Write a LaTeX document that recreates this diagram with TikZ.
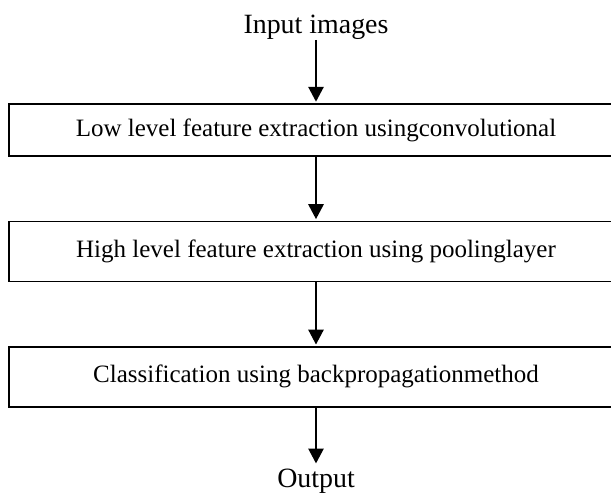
\documentclass[tikz,border=0pt]{standalone}
\usepackage{fontspec}
\setmainfont{Liberation Serif}
\usetikzlibrary{arrows.meta,positioning}

\begin{document}
\begin{tikzpicture}[
    x=1pt, y=1pt,
    node distance=0mm,
    stage/.style={draw, line width=1.4pt, minimum width=614pt, minimum height=60pt, inner sep=0pt, align=center, font=\fontsize{25}{30}\selectfont},
    term/.style={inner sep=0pt, font=\fontsize{27.9}{33}\selectfont},
    flow/.style={-{Triangle[width=15pt, length=15pt]}, line width=2.8pt, shorten >=1.5pt}
]
\useasboundingbox (0,0) rectangle (611,-496);
\node[stage, minimum height=52pt] (low) at (316,-130) {Low level feature extraction usingconvolutional};
\node[stage, below=64pt of low] (high) {High level feature extraction using poolinglayer};
\node[stage, below=64pt of high] (cls) {Classification using backpropagationmethod};
\node[term, above=63.4pt of low] (in) {Input images};
\node[term, below=61pt of cls] (out) {Output};

\foreach \a/\b in {in/low, low/high, high/cls}
  \draw[flow] (\a.south) -- (\b.north);
\draw[flow, shorten >=5pt] (cls.south) -- (out.north);
\end{tikzpicture}
\end{document}
